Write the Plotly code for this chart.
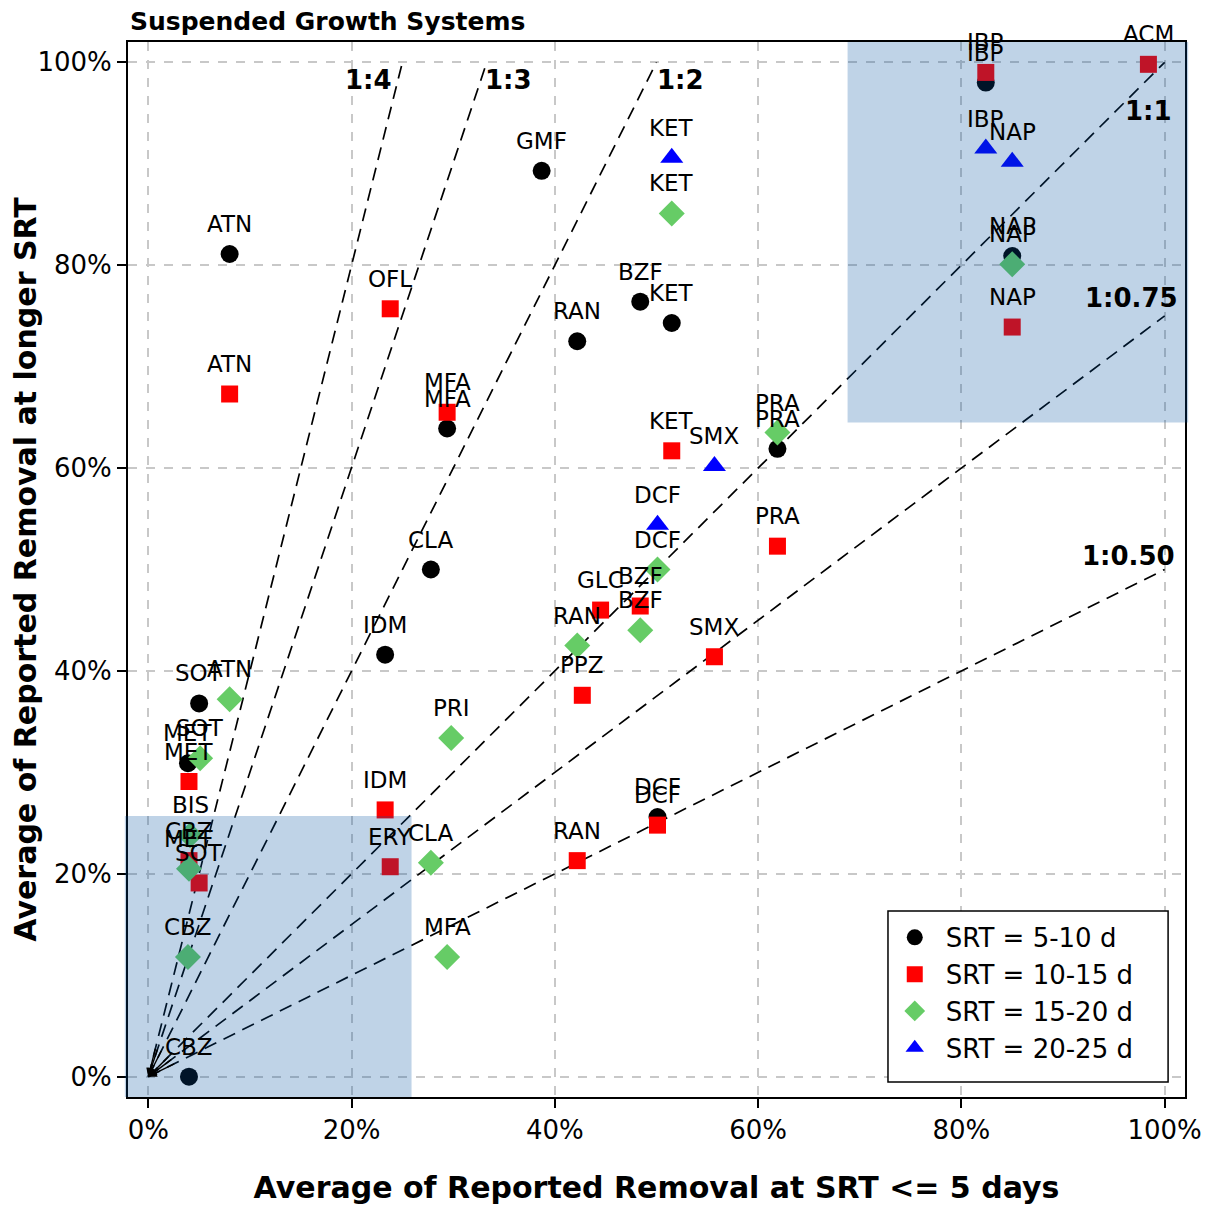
import plotly.graph_objects as go

# ---------------- data ----------------
# SRT = 5-10 d (black circles)
s1_labels = ["ATN", "GMF", "BZF", "KET", "RAN", "MFA", "CLA", "IDM", "SOT", "MET", "CBZ", "PRA", "DCF", "IBP", "NAP"]
s1_x = [0.080, 0.387, 0.484, 0.515, 0.422, 0.294, 0.278, 0.233, 0.050, 0.039, 0.040, 0.619, 0.501, 0.824, 0.850]
s1_y = [0.811, 0.893, 0.764, 0.743, 0.725, 0.639, 0.500, 0.416, 0.368, 0.309, 0.000, 0.619, 0.256, 0.980, 0.809]

# SRT = 10-15 d (red squares)
s2_labels = ["ATN", "OFL", "MFA", "KET", "PRA", "GLC", "BZF", "PPZ", "SMX", "IDM", "ERY", "RAN", "DCF", "MET", "CBZ", "SOT", "IBP", "ACM", "NAP"]
s2_x = [0.080, 0.238, 0.294, 0.515, 0.619, 0.445, 0.484, 0.427, 0.557, 0.233, 0.238, 0.422, 0.501, 0.040, 0.040, 0.050, 0.824, 0.984, 0.850]
s2_y = [0.673, 0.757, 0.655, 0.617, 0.523, 0.460, 0.464, 0.376, 0.414, 0.263, 0.207, 0.213, 0.248, 0.291, 0.213, 0.191, 0.990, 0.998, 0.739]

# SRT = 15-20 d (green diamonds)
s3_labels = ["ATN", "SOT", "PRI", "KET", "PRA", "DCF", "BZF", "RAN", "CLA", "MFA", "CBZ", "BIS", "MET", "NAP"]
s3_x = [0.080, 0.051, 0.298, 0.515, 0.619, 0.501, 0.484, 0.422, 0.278, 0.294, 0.039, 0.041, 0.040, 0.850]
s3_y = [0.372, 0.314, 0.334, 0.851, 0.635, 0.500, 0.440, 0.425, 0.211, 0.118, 0.118, 0.238, 0.205, 0.801]

# SRT = 20-25 d (blue triangles)
s4_labels = ["KET", "SMX", "DCF", "IBP", "NAP"]
s4_x = [0.515, 0.557, 0.501, 0.824, 0.850]
s4_y = [0.906, 0.602, 0.544, 0.915, 0.902]

series_names = ["SRT = 5-10 d", "SRT = 10-15 d", "SRT = 15-20 d", "SRT = 20-25 d"]

# reference ratio lines (from origin to end point)
ratio_names = ["1:4", "1:3", "1:2", "1:1", "1:0.75", "1:0.50"]
ratio_end_x = [0.25, 0.333, 0.50, 1.00, 1.00, 1.00]
ratio_end_y = [1.00, 1.00, 1.00, 1.00, 0.75, 0.50]
ratio_label_x = [0.217, 0.354, 0.524, 0.984, 0.967, 0.964]
ratio_label_y = [0.983, 0.983, 0.983, 0.952, 0.768, 0.513]

tick_vals = [0, 0.2, 0.4, 0.6, 0.8, 1.0]
tick_text = ["0%", "20%", "40%", "60%", "80%", "100%"]

FONT = "DejaVu Sans"
XR = [-0.02, 1.02]


def xpaper(v):
    return (v - XR[0]) / (XR[1] - XR[0])


fig = go.Figure()

# reference dashed lines
for nm, ex, ey in zip(ratio_names, ratio_end_x, ratio_end_y):
    fig.add_trace(go.Scatter(x=[0, ex], y=[0, ey], mode="lines",
                             line=dict(color="black", width=1.7, dash="13px,8px"),
                             showlegend=False, hoverinfo="skip"))

styles = [
    dict(symbol="circle", color="black", size=18),
    dict(symbol="square", color="#ff0000", size=17),
    dict(symbol="diamond", color="#66cc66", size=20),
    dict(symbol="triangle-up", color="#0000ff", size=20),
]
all_series = [(s1_labels, s1_x, s1_y), (s2_labels, s2_x, s2_y),
              (s3_labels, s3_x, s3_y), (s4_labels, s4_x, s4_y)]

for (labs, xs, ys), st, nm in zip(all_series, styles, series_names):
    fig.add_trace(go.Scatter(x=xs, y=ys, mode="markers", name=nm,
                             marker=dict(symbol=st["symbol"], color=st["color"], size=st["size"],
                                         line=dict(width=0))))

annotations = []
for (labs, xs, ys) in all_series:
    for t, x, y in zip(labs, xs, ys):
        annotations.append(dict(x=x, y=y, text=t, showarrow=False, yshift=30,
                                font=dict(family=FONT, size=23, color="black")))

for nm, lx, ly in zip(ratio_names, ratio_label_x, ratio_label_y):
    annotations.append(dict(x=lx, y=ly, text="<b>" + nm + "</b>", showarrow=False,
                            font=dict(family=FONT, size=26, color="black")))

# arrow heads at origin
for ex, ey in zip(ratio_end_x, ratio_end_y):
    L = (ex ** 2 + ey ** 2) ** 0.5
    annotations.append(dict(x=0, y=0, ax=0.03 * ex / L, ay=0.03 * ey / L,
                            xref="x", yref="y", axref="x", ayref="y", text="",
                            showarrow=True, arrowhead=2, arrowsize=1.2, arrowwidth=1.4,
                            arrowcolor="black"))

shade = "rgba(0,80,160,0.25)"
shapes = [
    dict(type="rect", xref="paper", yref="y", x0=xpaper(0.688), x1=1.003, y0=0.645, y1=1.02,
         fillcolor=shade, line=dict(width=0), layer="above"),
    dict(type="rect", xref="paper", yref="y", x0=-0.003, x1=xpaper(0.259), y0=-0.02, y1=0.257,
         fillcolor=shade, line=dict(width=0), layer="above"),
    # legend frame
    dict(type="rect", xref="paper", yref="paper", x0=0.719, x1=0.984, y0=0.0142, y1=0.1763,
         fillcolor="white", line=dict(color="black", width=1.5), layer="above"),
]

axis_common = dict(
    range=XR, tickvals=tick_vals, ticktext=tick_text, automargin=False,
    showgrid=True, gridcolor="#c8c8c8", gridwidth=1.5, griddash="dash",
    zeroline=False, showline=True, linecolor="black", linewidth=2, mirror=True,
    ticks="outside", ticklen=9, tickwidth=1.5, tickcolor="black",
    tickfont=dict(family=FONT, size=26, color="black"),
)

# page body has an 8px margin: size the figure so the plot lands where the reference has it
W, H = 1208, 1197
fig.update_layout(
    width=W, height=H,
    margin=dict(l=120, r=31, t=34, b=108),
    paper_bgcolor="white", plot_bgcolor="white",
    font=dict(family=FONT, color="black"),
    title=dict(text="<b>Suspended Growth Systems</b>", x=122 / W, xref="container",
               xanchor="left", y=1 - 13 / H, yref="container", yanchor="middle",
               font=dict(family=FONT, size=25, color="black")),
    xaxis=dict(axis_common, title=dict(text="<b>Average of Reported Removal at SRT <= 5 days</b>",
                                       font=dict(family=FONT, size=30), standoff=36)),
    yaxis=dict(axis_common, title=dict(text="<b>Average of Reported Removal at longer SRT</b>",
                                       font=dict(family=FONT, size=30), standoff=2)),
    legend=dict(x=0.715, y=0.1735, xanchor="left", yanchor="top",
                bgcolor="rgba(0,0,0,0)", borderwidth=0, itemwidth=52,
                font=dict(family=FONT, size=26, color="black"), tracegroupgap=0),
    annotations=annotations,
    shapes=shapes,
)

fig.write_html("out.html")
